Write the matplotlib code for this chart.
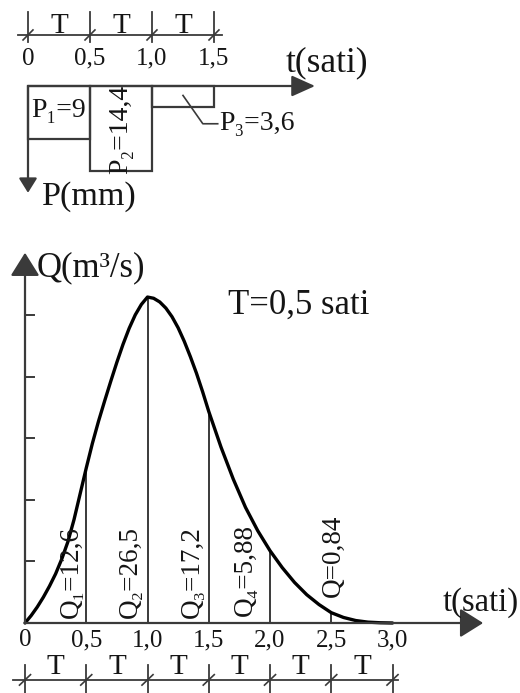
import matplotlib
matplotlib.use("Agg")
import matplotlib.pyplot as plt

plt.rcParams['font.family'] = ['Liberation Serif', 'DejaVu Serif']

# rainfall blocks (hyetograph)
p_start = [0.0, 0.5, 1.0]
p_depth = [9.0, 14.4, 3.6]
p_labels = ["P₁=9", "P₂=14,4", "P₃=3,6"]
top_ticks = [0.0, 0.5, 1.0, 1.5]
top_tick_labels = ["0", "0,5", "1,0", "1,5"]

# runoff hydrograph
t_curve = [0, 0.05, 0.1, 0.15, 0.2, 0.25, 0.3, 0.35, 0.4, 0.45, 0.5, 0.55,
           0.6, 0.65, 0.7, 0.75, 0.8, 0.85, 0.9, 0.95, 1.0, 1.05, 1.1, 1.15,
           1.2, 1.25, 1.3, 1.35, 1.4, 1.45, 1.5, 1.6, 1.7, 1.8, 1.9, 2.0,
           2.1, 2.2, 2.3, 2.4, 2.5, 2.6, 2.7, 2.8, 2.9, 3.0]
q_curve = [0, 0.6, 1.3, 2.1, 3.0, 4.0, 5.2, 6.6, 8.4, 10.5, 12.6, 14.6,
           16.4, 18.05, 19.65, 21.2, 22.65, 23.95, 25.05, 25.9, 26.5, 26.4, 26.1, 25.6,
           24.9, 24.0, 22.9, 21.65, 20.3, 18.8, 17.2, 14.3, 11.7, 9.4, 7.5, 5.88,
           4.5, 3.3, 2.3, 1.5, 0.84, 0.45, 0.2, 0.07, 0.02, 0]
t_ord = [0.5, 1.0, 1.5, 2.0, 2.5]
q_ord = [12.6, 26.5, 17.2, 5.88, 0.84]
q_labels = ["Q₁=12,6", "Q₂=26,5", "Q₃=17,2", "Q₄=5,88", "Q=0,84"]
bottom_ticks = [0.0, 0.5, 1.0, 1.5, 2.0, 2.5, 3.0]
bottom_tick_labels = ["0", "0,5", "1,0", "1,5", "2,0", "2,5", "3,0"]
q_grid = [5, 10, 15, 20, 25]

LINE = '#3a3a3a'
INK = '#151515'
HEAD = '-|>,head_length=0.4,head_width=0.25'

fig = plt.figure(figsize=(5.2, 6.93), dpi=100, facecolor='w')

# ---- lower panel: Q(t) ----
ax = fig.add_axes([0, 0, 1, 1])
ax.set_xlim(-0.2041, 4.0408)
ax.set_ylim(-5.691, 50.65)
ax.axis('off')

ax.annotate('', xy=(3.74, 0), xytext=(0, 0),
            arrowprops=dict(arrowstyle=HEAD, mutation_scale=36, color=LINE,
                            lw=1.6, shrinkA=0, shrinkB=0))
ax.annotate('', xy=(0, 30.1), xytext=(0, 0),
            arrowprops=dict(arrowstyle=HEAD, mutation_scale=36, color=LINE,
                            lw=1.6, shrinkA=0, shrinkB=0))
for q in q_grid:
    ax.plot([0, 0.073], [q, q], color=LINE, lw=1.4)

ax.vlines(t_ord, 0, q_ord, color=LINE, lw=1.4)
ax.plot(t_curve, q_curve, color='black', lw=2.4, solid_joinstyle='round',
        solid_capstyle='round')

label_dx = [-0.118, -0.143, -0.137, -0.2, 0.014]
label_y0 = [0.4, 0.4, 0.4, 0.6, 2.1]
for t, dx, y0, s in zip(t_ord, label_dx, label_y0, q_labels):
    ax.text(t + dx, y0, s, rotation=90, ha='center', va='bottom',
            fontsize=19.5, color=INK)

for t, s in zip(bottom_ticks, bottom_tick_labels):
    ax.text(t, -1.38, s, ha='center', va='center', fontsize=18, color=INK)

# dimension line with T segments
ax.plot([-0.098, 3.045], [-4.63, -4.63], color=LINE, lw=1.3)
for t in bottom_ticks:
    ax.plot([t, t], [-3.45, -5.8], color=LINE, lw=1.3)
    ax.plot([t - 0.045, t + 0.045], [-5.05, -4.2], color=LINE, lw=1.2)
for a, b in zip(bottom_ticks[:-1], bottom_ticks[1:]):
    ax.text((a + b) / 2, -3.55, "T", ha='center', va='center', fontsize=21, color=INK)

ax.text(0.098, 28.86, "Q(m³/s)", ha='left', va='center', fontsize=25, color=INK)
ax.text(3.41, 1.63, "t(sati)", ha='left', va='center', fontsize=23.5, color=INK)
ax.text(1.657, 25.85, "T=0,5 sati", ha='left', va='center', fontsize=25, color=INK)

# ---- upper panel: P(t), drawn downwards ----
ax2 = fig.add_axes([0, 0, 1, 1])
ax2.patch.set_alpha(0)
ax2.set_xlim(-0.2258, 3.968)
ax2.set_ylim(102.88, -14.576)
ax2.axis('off')

ax2.bar(p_start, p_depth, width=0.5, align='edge', fill=False,
        edgecolor=LINE, linewidth=1.6)
ax2.annotate('', xy=(2.315, 0), xytext=(0, 0),
             arrowprops=dict(arrowstyle='-|>,head_length=0.4,head_width=0.18',
                             mutation_scale=36, color=LINE, lw=1.6,
                             shrinkA=0, shrinkB=0))
ax2.annotate('', xy=(0, 18.1), xytext=(0, 0),
             arrowprops=dict(arrowstyle=HEAD, mutation_scale=22, color=LINE,
                             lw=1.6, shrinkA=0, shrinkB=0))

ax2.text(0.025, p_depth[0] / 2 - 0.4, p_labels[0], ha='left', va='center',
         fontsize=20, color=INK)
ax2.text(0.75, p_depth[1] / 2 + 0.2, p_labels[1], rotation=90, ha='center',
         va='center', fontsize=20, color=INK)
ax2.text(1.54, 6.4, p_labels[2], ha='left', va='center', fontsize=20, color=INK)
ax2.plot([1.25, 1.41, 1.53], [1.6, 6.4, 6.4], color=LINE, lw=1.2)

for t, s in zip(top_ticks, top_tick_labels):
    ax2.text(t, -4.6, s, ha='center', va='center', fontsize=18, color=INK)

ax2.plot([-0.08, 1.565], [-8.64, -8.64], color=LINE, lw=1.3)
for t in top_ticks:
    ax2.plot([t, t], [-12.54, -7.46], color=LINE, lw=1.3)
    ax2.plot([t - 0.04, t + 0.04], [-7.8, -9.5], color=LINE, lw=1.2)
for a, b in zip(top_ticks[:-1], top_ticks[1:]):
    ax2.text((a + b) / 2, -10.2, "T", ha='center', va='center', fontsize=21, color=INK)

ax2.text(2.08, -3.9, "t(sati)", ha='left', va='center', fontsize=25.5, color=INK)
ax2.text(0.11, 18.8, "P(mm)", ha='left', va='center', fontsize=24.5, color=INK)

fig.savefig("out.png", dpi=100, facecolor='w')
